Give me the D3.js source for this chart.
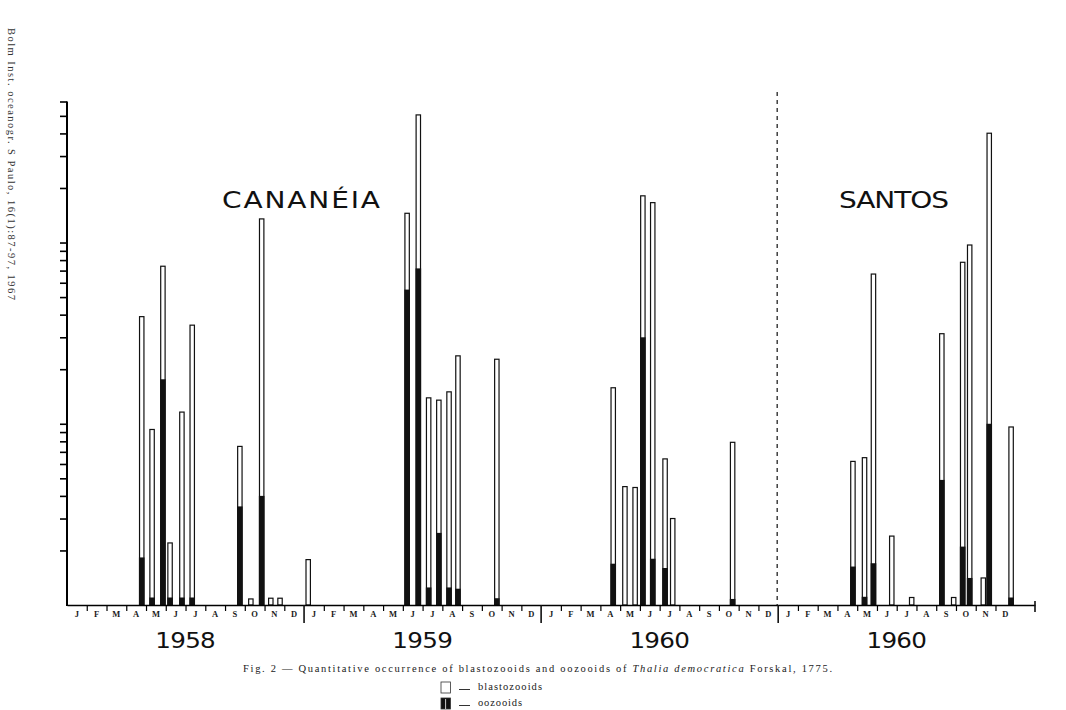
<!DOCTYPE html>
<html>
<head>
<meta charset="utf-8">
<script src="https://cdn.jsdelivr.net/npm/d3@7"></script>
<style>
  body { margin: 0; background: #fff; }
  svg { display: block; }
</style>
</head>
<body>
<div id="chart"></div>
<script>
// ---- data ----
const monthLabels = ["J", "F", "M", "A", "M", "J", "J", "A", "S", "O", "N", "D"]
const yearLabels = ["1958", "1959", "1960", "1960"]
const stationLabels = ["CANANÉIA", "SANTOS"]
const yTickValues = [2, 3, 4, 5, 6, 7, 8, 9, 10, 20, 30, 40, 50, 60, 70, 80, 90, 100, 200, 300, 400, 500, 600]

const cananeiaDates = [
  "1958-04-24", "1958-05-10", "1958-05-27", "1958-06-07", "1958-06-25", "1958-07-11",
  "1958-09-23", "1958-10-10", "1958-10-27", "1958-11-10", "1958-11-24", "1959-01-07",
  "1959-06-07", "1959-06-24", "1959-07-10", "1959-07-26", "1959-08-11", "1959-08-25",
  "1959-10-24", "1960-04-20", "1960-05-08", "1960-05-24", "1960-06-05", "1960-06-20",
  "1960-07-09", "1960-07-21", "1960-10-22"
]
const cananeiaBlasto = [39, 9.3, 74, 2.2, 11.6, 35, 7.5, 1.08, 135, 1.09, 1.09, 1.78,
  145, 506, 13.9, 13.5, 15, 23.7, 22.7, 15.8, 4.5, 4.45, 181, 166, 6.4, 3.0, 7.9]
const cananeiaOozo = [1.83, 1.1, 17.6, 1.1, 1.1, 1.1, 3.5, null, 4.0, null, null, null,
  55, 72, 1.25, 2.5, 1.25, 1.23, 1.09, 1.69, null, null, 30, 1.8, 1.6, null, 1.08]

const santosDates = [
  "1960-04-24", "1960-05-12", "1960-05-26", "1960-06-23", "1960-07-24", "1960-09-09",
  "1960-09-27", "1960-10-11", "1960-10-22", "1960-11-12", "1960-11-21", "1960-12-25"
]
const santosBlasto = [6.2, 6.5, 67, 2.4, 1.1, 31.4, 1.1, 77.8, 96.9, 1.41, 401, 9.6]
const santosOozo = [1.63, 1.11, 1.7, null, null, 4.9, null, 2.1, 1.41, null, 10, 1.1]

// ---- layout ----
const W = 1066, H = 710
const plot = { left: 67, right: 1035, top: 101.5, bottom: 605 }
const barW = 5.6

const svg = d3.select("#chart").append("svg")
  .attr("width", W)
  .attr("height", H)
  .style("font-family", "'DejaVu Sans', sans-serif")

const x = d3.scaleLinear().domain([0, 49]).range([plot.left, plot.right])
const y = d3.scaleLog().domain([1, 600]).range([plot.bottom, plot.top])

function monthPos(dateStr, panel) {
  const [yy, mm, dd] = dateStr.split("-").map(Number)
  const days = new Date(yy, mm, 0).getDate()
  return panel * 12 + (mm - 1) + (dd - 0.5) / days
}

function buildSamples(dates, blasto, oozo, panelOf) {
  return dates.map((d, i) => ({
    pos: monthPos(d, panelOf(d)),
    blasto: blasto[i],
    oozo: oozo[i]
  }))
}

const samples = [
  ...buildSamples(cananeiaDates, cananeiaBlasto, cananeiaOozo, d => +d.slice(0, 4) - 1958),
  ...buildSamples(santosDates, santosBlasto, santosOozo, () => 3)
]

/* Y AXIS */
svg.append("g")
  .attr("transform", `translate(${plot.left},0)`)
  .call(d3.axisLeft(y).tickValues(yTickValues).tickSize(7).tickSizeOuter(0).tickFormat(""))
  .call(g => g.select(".domain").attr("stroke-width", 2).attr("d", `M0,${plot.top}V${plot.bottom + 1}`))
  .call(g => g.selectAll(".tick line").attr("stroke-width", 1.6))

/* BARS */
const bars = svg.append("g")
bars.selectAll("rect.blasto")
  .data(samples)
  .join("rect")
  .attr("class", "blasto")
  .attr("x", d => x(d.pos) - barW / 2 + 0.6)
  .attr("y", d => y(d.blasto))
  .attr("width", barW - 1.2)
  .attr("height", d => plot.bottom - y(d.blasto))
  .attr("fill", "#fff")
  .attr("stroke", "#111")
  .attr("stroke-width", 1.2)

bars.selectAll("rect.oozo")
  .data(samples.filter(d => d.oozo))
  .join("rect")
  .attr("class", "oozo")
  .attr("x", d => x(d.pos) - barW / 2)
  .attr("y", d => y(d.oozo))
  .attr("width", barW)
  .attr("height", d => plot.bottom - y(d.oozo))
  .attr("fill", "#111")

/* X AXIS */
const monthBounds = d3.range(1, 49).filter(m => m % 12 !== 0)
svg.append("g")
  .attr("transform", `translate(0,${plot.bottom})`)
  .call(d3.axisBottom(x).tickValues(monthBounds).tickSize(6).tickSizeOuter(0).tickFormat(""))
  .call(g => g.select(".domain").attr("stroke-width", 1.6))
  .call(g => g.selectAll(".tick line").attr("stroke-width", 1.2))

// year dividers
svg.append("g")
  .selectAll("line")
  .data([12, 24, 36])
  .join("line")
  .attr("x1", d => x(d)).attr("x2", d => x(d))
  .attr("y1", plot.bottom).attr("y2", plot.bottom + 18)
  .attr("stroke", "#111")
  .attr("stroke-width", 1.6)

// axis end tick
svg.append("line")
  .attr("x1", x(49)).attr("x2", x(49))
  .attr("y1", plot.bottom - 4).attr("y2", plot.bottom + 7)
  .attr("stroke", "#111").attr("stroke-width", 1.6)

// station separator
svg.append("line")
  .attr("x1", x(36) - 1).attr("x2", x(36) - 1)
  .attr("y1", 92).attr("y2", plot.bottom)
  .attr("stroke", "#222")
  .attr("stroke-width", 1.3)
  .attr("stroke-dasharray", "4,4")

// month labels
svg.append("g")
  .selectAll("text")
  .data(d3.range(48))
  .join("text")
  .attr("x", d => x(d + 0.5))
  .attr("y", plot.bottom + 11.5)
  .attr("text-anchor", "middle")
  .style("font-family", "'Liberation Serif', serif")
  .style("font-weight", "bold")
  .style("font-size", "8.5px")
  .attr("fill", "#1a1a1a")
  .text(d => monthLabels[d % 12])

// year labels
svg.append("g")
  .selectAll("text")
  .data(yearLabels)
  .join("text")
  .attr("transform", (d, i) => `translate(${x(i * 12 + 6)},648) scale(1.12,1)`)
  .attr("text-anchor", "middle")
  .attr("textLength", 54)
  .attr("lengthAdjust", "spacing")
  .style("font-size", "22px")
  .attr("fill", "#111")
  .text(d => d)

// station titles (wide geometric lettering)
const titleScale = 1.22
svg.append("text")
  .attr("transform", `translate(222,207.5) scale(${titleScale},1)`)
  .attr("textLength", 158 / titleScale).attr("lengthAdjust", "spacing")
  .style("font-size", "23px")
  .attr("fill", "#111")
  .text(stationLabels[0])

svg.append("text")
  .attr("transform", `translate(839,207.5) scale(${titleScale},1)`)
  .attr("textLength", 110 / titleScale).attr("lengthAdjust", "spacing")
  .style("font-size", "23px")
  .attr("fill", "#111")
  .text(stationLabels[1])

/* CAPTION + LEGEND */
const caption = svg.append("text")
  .attr("x", 243).attr("y", 672)
  .attr("textLength", 589).attr("lengthAdjust", "spacing")
  .style("font-family", "'Liberation Serif', serif")
  .style("font-size", "10.5px")
  .attr("fill", "#1a1a1a")
caption.append("tspan").text("Fig.  2  —  Quantitative  occurrence  of  blastozooids  and  oozooids  of ")
caption.append("tspan").style("font-style", "italic").text("Thalia  democratica ")
caption.append("tspan").text("Forskal,  1775.")

const legend = svg.append("g").attr("transform", "translate(441,682)")
const legendItems = [
  { label: "blastozooids", fill: "#fff" },
  { label: "oozooids", fill: "#111" }
]
legendItems.forEach((item, i) => {
  const g = legend.append("g").attr("transform", `translate(0,${i * 16})`)
  g.append("rect")
    .attr("x", 0).attr("y", 0)
    .attr("width", 9.5).attr("height", 11)
    .attr("fill", item.fill)
    .attr("stroke", "#333").attr("stroke-width", 0.8)
  if (i === 1) {
    g.append("line").attr("x1", 4.6).attr("x2", 4.6).attr("y1", 1).attr("y2", 11)
      .attr("stroke", "#fff").attr("stroke-width", 0.8)
  }
  g.append("line")
    .attr("x1", 18).attr("x2", 29).attr("y1", 7.5).attr("y2", 7.5)
    .attr("stroke", "#333").attr("stroke-width", 1)
  g.append("text")
    .attr("x", 37).attr("y", 8)
    .attr("textLength", i === 0 ? 64 : 44).attr("lengthAdjust", "spacing")
    .style("font-family", "'Liberation Serif', serif")
    .style("font-size", "10.5px")
    .attr("fill", "#1a1a1a")
    .text(item.label)
})

// journal reference on the margin
svg.append("text")
  .attr("transform", "translate(8,28) rotate(90)")
  .attr("textLength", 272).attr("lengthAdjust", "spacing")
  .style("font-family", "'Liberation Serif', serif")
  .style("font-size", "10.5px")
  .attr("fill", "#333")
  .text("Bolm Inst. oceanogr. S Paulo, 16(1):87-97, 1967")
</script>
</body>
</html>
